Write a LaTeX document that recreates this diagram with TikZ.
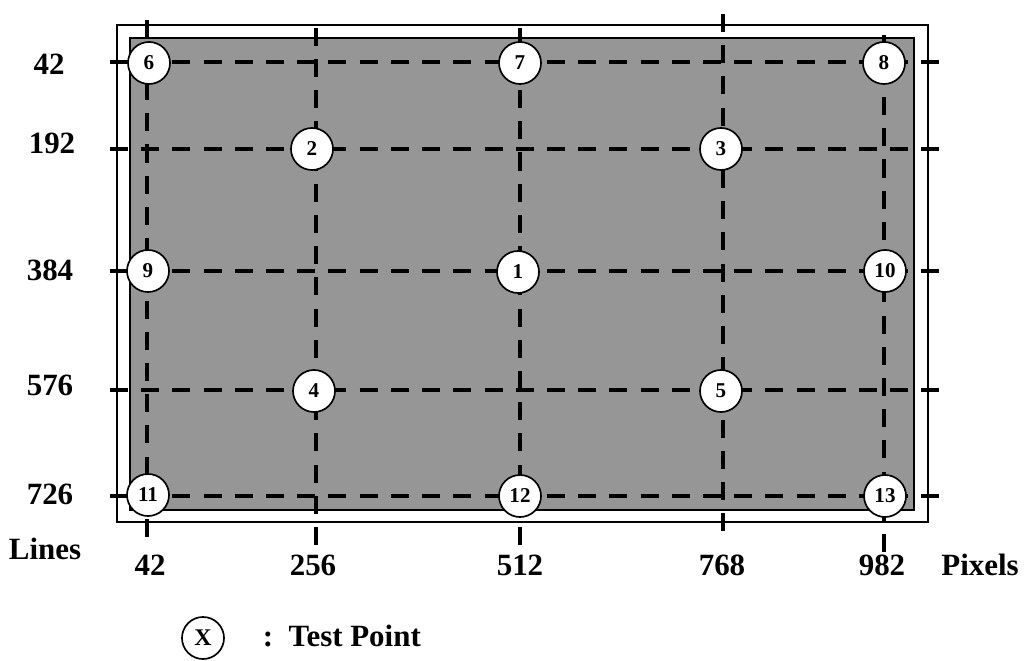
\documentclass[tikz,border=0pt]{standalone}
\usepackage{fontspec}
\setmainfont{Liberation Serif}
\usepackage{tikz}
\tikzset{
	gridline/.style={line width=3.3pt, dash pattern=on 0.45cm off 0.33cm},
	testpt/.style={circle, draw, line width=1.2pt, fill=white, minimum size=1.05cm, inner sep=0pt, font=\fontsize{15}{16}\bfseries},
	axislbl/.style={font=\fontsize{22}{24}\bfseries}
}

\begin{document}
\begin{tikzpicture}[x=0.025cm, y=-0.025cm]
			%%%%% START %%%%%
			\useasboundingbox (0, 0) rectangle (1024, 661);
			
			\draw[line width=1.4pt, fill=white] (117, 25) rectangle (928, 522);
			\draw[line width=1.4pt, fill=black!41] (130, 38) rectangle (914, 510);
			
			% columns
			\draw[gridline] (147, 537) -- (147, 8);
			\draw[gridline] (316, 545) -- (316, 17);
			\draw[gridline] (520, 545) -- (520, 17);
			\draw[gridline] (723, 14) -- (723, 544);
			\draw[gridline] (884, 552) -- (884, 25);
			
			% rows
			\draw[gridline] (110, 62) -- (940, 62);
			\draw[gridline] (110, 149) -- (940, 149);
			\draw[gridline] (110, 271) -- (940, 271);
			\draw[gridline] (110, 390) -- (940, 390);
			\draw[gridline] (110, 496) -- (940, 496);
			
			% test points
			\node[testpt] (p6) at (149, 63) {6};
			\node[testpt] (p7) at (520, 63) {7};
			\node[testpt] (p8) at (884, 63) {8};
			\node[testpt] (p2) at (312, 149) {2};
			\node[testpt] (p3) at (721, 149) {3};
			\node[testpt] (p9) at (148, 271) {9};
			\node[testpt] (p1) at (518, 272) {1};
			\node[testpt] (p10) at (885, 271) {10};
			\node[testpt] (p4) at (314, 391) {4};
			\node[testpt] (p5) at (721, 391) {5};
			\node[testpt] (p11) at (148, 495) {11};
			\node[testpt] (p12) at (520, 496) {12};
			\node[testpt] (p13) at (885, 496) {13};
			
			% line numbers
			\node[axislbl] (l42) at (49, 64) {42};
			\node[axislbl] (l192) at (52, 143) {192};
			\node[axislbl] (l384) at (50, 270) {384};
			\node[axislbl] (l576) at (50, 385) {576};
			\node[axislbl] (l726) at (50, 494) {726};
			\node[axislbl] (lines) at (45, 549) {Lines};
			
			% pixel numbers
			\node[axislbl] (c42) at (150, 565) {42};
			\node[axislbl] (c256) at (313, 565) {256};
			\node[axislbl] (c512) at (520, 565) {512};
			\node[axislbl] (c768) at (722, 565) {768};
			\node[axislbl] (c982) at (882, 565) {982};
			\node[axislbl] (pixels) at (980, 565) {Pixels};
			
			% legend
			\node[circle, draw, line width=1.2pt, minimum size=1.05cm, inner sep=0pt, font=\fontsize{17}{18}\bfseries] (key) at (203, 638) {X};
			\node[axislbl, anchor=west] (keytxt) at (258, 636) {:\ \ Test Point};
			
			%%%%% END %%%%%
\end{tikzpicture}
\end{document}
